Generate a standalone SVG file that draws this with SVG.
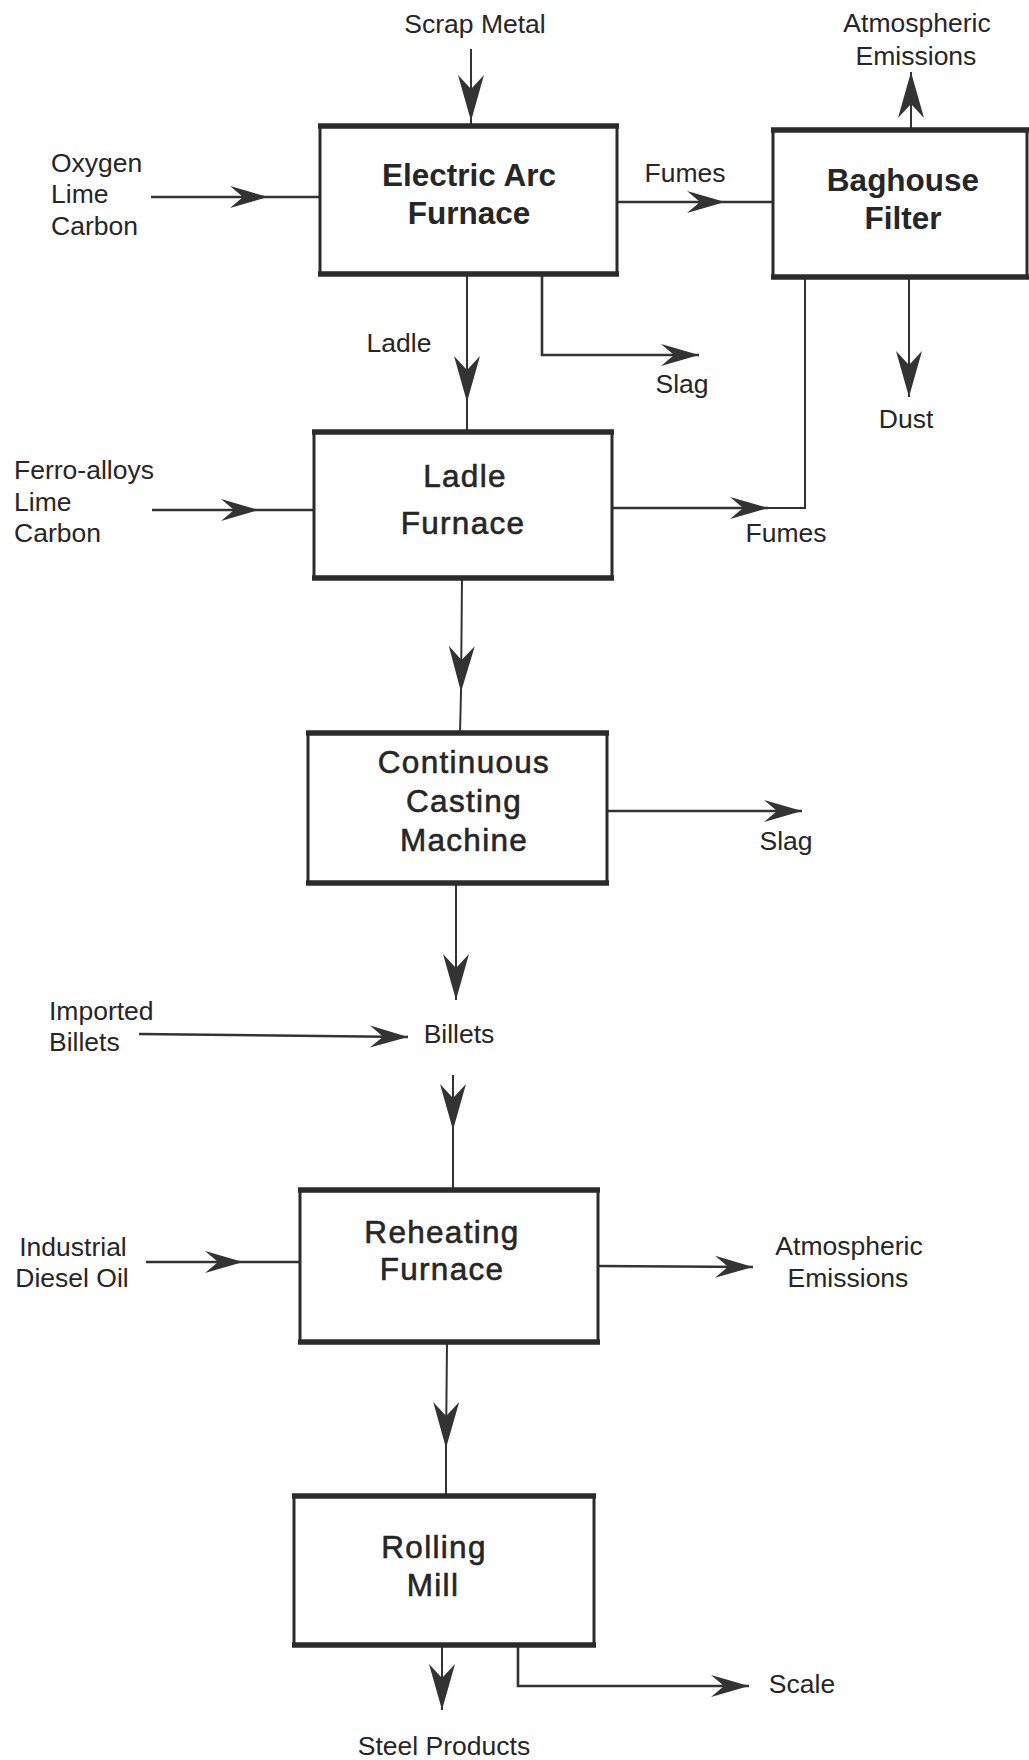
<svg xmlns="http://www.w3.org/2000/svg" width="1029" height="1760" viewBox="0 0 1029 1760">
<defs>
<style>
.box{fill:#fff;stroke:#2b2b2b;stroke-width:3}
.edge{stroke:#2b2b2b;stroke-width:5.5;fill:none}
.bl{font-family:"Liberation Sans",Arial,sans-serif;font-weight:bold;font-size:31.5px;fill:#262626;text-anchor:middle}
.rl{font-family:"Liberation Sans",Arial,sans-serif;font-size:31.5px;fill:#262626;stroke:#262626;stroke-width:0.6;letter-spacing:1.3px;text-anchor:middle}
.lb{font-family:"Liberation Sans",Arial,sans-serif;font-size:26.5px;fill:#262626}
.m{text-anchor:middle}
.c{fill:none;stroke:#333;stroke-width:2}
.h{stroke-width:2.6}
</style>
<marker id="av" markerUnits="userSpaceOnUse" markerWidth="48" markerHeight="28" refX="46" refY="13" orient="auto" overflow="visible">
<path d="M0,0 L46,13 L0,26 L14,13 Z" fill="#333"/>
</marker>
<marker id="ah" markerUnits="userSpaceOnUse" markerWidth="40" markerHeight="24" refX="38" refY="11" orient="auto" overflow="visible">
<path d="M0,0 L38,11 L0,22 L13,11 Z" fill="#333"/>
</marker>
</defs>
<rect width="1029" height="1760" fill="#fff"/>

<g id="connectors">
<path class="c" d="M471,49 L471,121 L471,126" marker-mid="url(#av)"/>
<path class="c h" d="M151,197 L268,197 L320,197" marker-mid="url(#ah)"/>
<path class="c h" d="M617,202 L725,202 L773,202" marker-mid="url(#ah)"/>
<path class="c" d="M467,274 L467,402 L467,432" marker-mid="url(#av)"/>
<path class="c h" d="M542,274 L542,355 L699,355" marker-end="url(#ah)"/>
<path class="c" d="M911,130 L911,72" marker-end="url(#av)"/>
<path class="c" d="M909,277 L909,397" marker-end="url(#av)"/>
<path class="c h" d="M152,510 L259,510 L314,510" marker-mid="url(#ah)"/>
<path class="c h" d="M612,508 L768,508" marker-end="url(#ah)"/>
<path class="c" d="M768,508 L805,508 L805,277"/>
<path class="c" d="M462,578 L461,692 L460,733" marker-mid="url(#av)"/>
<path class="c h" d="M607,811 L802,811" marker-end="url(#ah)"/>
<path class="c" d="M456,883 L456,1000" marker-end="url(#av)"/>
<path class="c h" d="M139,1034 L408,1037" marker-end="url(#ah)"/>
<path class="c" d="M453,1075 L453,1130 L453,1190" marker-mid="url(#av)"/>
<path class="c h" d="M146,1262 L243,1262 L300,1262" marker-mid="url(#ah)"/>
<path class="c h" d="M598,1266 L753,1267" marker-end="url(#ah)"/>
<path class="c" d="M447,1342 L446,1448 L446,1496" marker-mid="url(#av)"/>
<path class="c" d="M442,1645 L442,1710" marker-end="url(#av)"/>
<path class="c h" d="M518,1645 L518,1686 L749,1686" marker-end="url(#ah)"/>
</g>

<g id="eaf">
<rect class="box" x="320" y="126" width="297" height="148"/>
<path class="edge" d="M318,126 H619 M318,274 H619"/>
<text class="bl" x="469" y="186">Electric Arc</text>
<text class="bl" x="469" y="224">Furnace</text>
</g>
<g id="baghouse">
<rect class="box" x="773" y="130" width="254" height="147"/>
<path class="edge" d="M771,130 H1029 M771,277 H1029"/>
<text class="bl" x="903" y="191">Baghouse</text>
<text class="bl" x="903" y="229">Filter</text>
</g>
<g id="ladle">
<rect class="box" x="314" y="432" width="298" height="146"/>
<path class="edge" d="M312,432 H614 M312,578 H614"/>
<text class="rl" x="465" y="487">Ladle</text>
<text class="rl" x="463" y="534">Furnace</text>
</g>
<g id="ccm">
<rect class="box" x="308" y="733" width="299" height="150"/>
<path class="edge" d="M306,733 H609 M306,883 H609"/>
<text class="rl" x="464" y="773">Continuous</text>
<text class="rl" x="464" y="812">Casting</text>
<text class="rl" x="464" y="851">Machine</text>
</g>
<g id="reheating">
<rect class="box" x="300" y="1190" width="298" height="152"/>
<path class="edge" d="M298,1190 H600 M298,1342 H600"/>
<text class="rl" x="442" y="1243">Reheating</text>
<text class="rl" x="442" y="1280">Furnace</text>
</g>
<g id="rolling">
<rect class="box" x="294" y="1496" width="300" height="149"/>
<path class="edge" d="M292,1496 H596 M292,1645 H596"/>
<text class="rl" x="434" y="1558">Rolling</text>
<text class="rl" x="433" y="1596">Mill</text>
</g>

<g id="labels">
<text class="lb m" x="475" y="33">Scrap Metal</text>
<text class="lb m" x="917" y="32">Atmospheric</text>
<text class="lb m" x="916" y="65">Emissions</text>
<text class="lb" x="51" y="172">Oxygen</text>
<text class="lb" x="51" y="203">Lime</text>
<text class="lb" x="51" y="235">Carbon</text>
<text class="lb m" x="685" y="182">Fumes</text>
<text class="lb m" x="399" y="352">Ladle</text>
<text class="lb m" x="682" y="393">Slag</text>
<text class="lb m" x="906" y="428">Dust</text>
<text class="lb" x="14" y="479">Ferro-alloys</text>
<text class="lb" x="14" y="511">Lime</text>
<text class="lb" x="14" y="542">Carbon</text>
<text class="lb m" x="786" y="542">Fumes</text>
<text class="lb m" x="786" y="850">Slag</text>
<text class="lb" x="49" y="1020">Imported</text>
<text class="lb" x="49" y="1051">Billets</text>
<text class="lb m" x="459" y="1043">Billets</text>
<text class="lb m" x="73" y="1256">Industrial</text>
<text class="lb m" x="72" y="1287">Diesel Oil</text>
<text class="lb m" x="849" y="1255">Atmospheric</text>
<text class="lb m" x="848" y="1287">Emissions</text>
<text class="lb m" x="444" y="1755">Steel Products</text>
<text class="lb m" x="802" y="1693">Scale</text>
</g>
</svg>
